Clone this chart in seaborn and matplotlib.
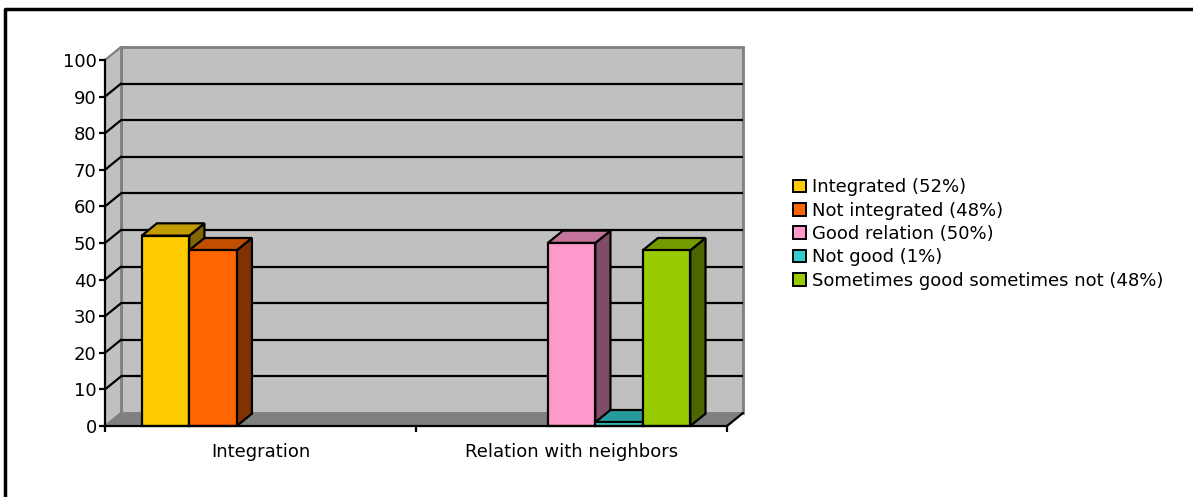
import numpy as np
import pandas as pd
import matplotlib
matplotlib.use("Agg")
import matplotlib.pyplot as plt
from matplotlib.patches import Polygon, Rectangle, Patch
from matplotlib.lines import Line2D
import seaborn as sns

# ---- data -------------------------------------------------------------
categories = ["Integration", "Relation with neighbors"]
series = ["Integrated (52%)", "Not integrated (48%)", "Good relation (50%)",
          "Not good (1%)", "Sometimes good sometimes not (48%)"]
series_category = ["Integration", "Integration", "Relation with neighbors",
                   "Relation with neighbors", "Relation with neighbors"]
values = [52, 48, 50, 1, 48]
y_ticks = [0, 10, 20, 30, 40, 50, 60, 70, 80, 90, 100]

front_colors = ["#FFCC00", "#FF6600", "#FF99CC", "#33CCCC", "#99CC00"]


def shade(hex_color, factor):
    rgb = np.array(matplotlib.colors.to_rgb(hex_color))
    return tuple(rgb * factor)


df = pd.DataFrame({"category": series_category, "series": series, "value": values})

W, H = 1193, 497
DPI = 100
sns.set_theme(style="white")
plt.rcParams["font.family"] = ["DejaVu Sans"]
plt.rcParams["text.color"] = "black"
FS = 13

fig = plt.figure(figsize=(W / DPI, H / DPI), dpi=DPI)
fig.patch.set_facecolor("white")

# front plane of the plot box, in pixels
x0, x1 = 105, 727
y_base, y_top = 426, 60
ax = fig.add_axes([x0 / W, 1 - y_base / H, (x1 - x0) / W, (y_base - y_top) / H])
ax.set_facecolor("none")
ax.set_xlim(-0.5, 1.5)
ax.set_ylim(0, 100)

# depth of the 3-D box, converted to data units
px_per_x = (x1 - x0) / 2.0
px_per_y = (y_base - y_top) / 100.0
ddx = 16 / px_per_x
ddy = 13 / px_per_y

WALL = "#C0C0C0"
EDGE = "#808080"

# back wall with gridlines
ax.add_patch(Rectangle((-0.5 + ddx, ddy), 2.0, 100, facecolor=WALL, edgecolor=EDGE,
                       lw=2, zorder=0.5, clip_on=False))
for v in y_ticks[1:-1]:
    ax.plot([-0.5 + ddx, 1.5 + ddx], [v + ddy, v + ddy], color="black", lw=1.6,
            zorder=0.8, clip_on=False, solid_capstyle="butt")

# left side wall
ax.add_patch(Polygon([(-0.5, 0), (-0.5 + ddx, ddy), (-0.5 + ddx, 100 + ddy), (-0.5, 100)],
                     closed=True, facecolor=WALL, edgecolor="none", zorder=0.6, clip_on=False))
ax.plot([-0.5 + ddx, -0.5 + ddx], [ddy, 100 + ddy], color=EDGE, lw=2, zorder=0.7, clip_on=False)
for v in y_ticks:
    col = EDGE if v in (0, 100) else "black"
    ax.plot([-0.5, -0.5 + ddx], [v, v + ddy], color=col, lw=1.6, zorder=0.9, clip_on=False)

# floor
ax.add_patch(Polygon([(-0.5, 0), (1.5, 0), (1.5 + ddx, ddy), (-0.5 + ddx, ddy)],
                     closed=True, facecolor=EDGE, edgecolor="none", zorder=1, clip_on=False))
ax.plot([1.5, 1.5 + ddx], [0, ddy], color="black", lw=1.6, zorder=1.1, clip_on=False)

# front faces of the columns
sns.barplot(data=df, x="category", y="value", hue="series", order=categories,
            hue_order=series, palette=front_colors, width=0.764, gap=0, dodge=True,
            saturation=1, edgecolor="black", linewidth=1.6, errorbar=None,
            legend=False, ax=ax)
ax.set_xlim(-0.5, 1.5)
ax.set_ylim(0, 100)

# top and side faces built from each drawn column
bars = [p for p in ax.patches if isinstance(p, Rectangle) and p.get_height() > 0
        and p.get_width() < 0.5]
bars.sort(key=lambda p: p.get_x())
bdx, bdy = ddx * 0.95, ddy * 0.95
for i, p in enumerate(bars):
    x, w, h = p.get_x(), p.get_width(), p.get_height()
    base = matplotlib.colors.to_hex(p.get_facecolor())
    z = 2 + 2 * i
    top = Polygon([(x, h), (x + w, h), (x + w + bdx, h + bdy), (x + bdx, h + bdy)],
                  closed=True, facecolor=shade(base, 0.76), edgecolor="black",
                  lw=1.6, zorder=z, clip_on=False, joinstyle="miter")
    side = Polygon([(x + w, 0), (x + w + bdx, bdy), (x + w + bdx, h + bdy), (x + w, h)],
                   closed=True, facecolor=shade(base, 0.5), edgecolor="black",
                   lw=1.6, zorder=z, clip_on=False, joinstyle="miter")
    ax.add_patch(side)
    ax.add_patch(top)
    p.set_zorder(z + 1)
    p.set_clip_on(False)

# axes, ticks and labels
for s in ("top", "right"):
    ax.spines[s].set_visible(False)
for s in ("left", "bottom"):
    ax.spines[s].set_color("black")
    ax.spines[s].set_linewidth(1.6)
    ax.spines[s].set_zorder(30)
ax.set_yticks(y_ticks)
ax.set_yticklabels([str(v) for v in y_ticks], fontsize=FS, color="black")
ax.tick_params(axis="y", which="major", direction="out", length=4.5, width=1.6,
               color="black", pad=1.5, left=True)
ax.set_xticks([0, 1])
ax.set_xticklabels(categories, fontsize=FS, color="black")
ax.set_xticks([-0.5, 0.5, 1.5], minor=True)
ax.tick_params(axis="x", which="major", length=0, pad=12)
ax.tick_params(axis="x", which="minor", direction="out", length=4.5, width=1.6,
               color="black", bottom=True)
ax.set_xlabel("")
ax.set_ylabel("")
ax.grid(False)

# legend
handles = [Patch(facecolor=c, edgecolor="black", lw=1.4) for c in front_colors]
leg = fig.legend(handles, series, loc="center left", bbox_to_anchor=(793 / W, 1 - 234 / H),
                 frameon=False, fontsize=FS, handlelength=0.7, handleheight=0.7,
                 handletextpad=0.35, labelspacing=0.3, borderaxespad=0, borderpad=0)
for t in leg.get_texts():
    t.set_color("black")

# outer frame (only top and left edges fall inside the image)
fig.add_artist(Line2D([5 / W, 5 / W, 1.0], [0.0, 1 - 9 / H, 1 - 9 / H],
                      transform=fig.transFigure, color="black", lw=2.5))

fig.savefig("out.png", dpi=DPI, facecolor="white")
